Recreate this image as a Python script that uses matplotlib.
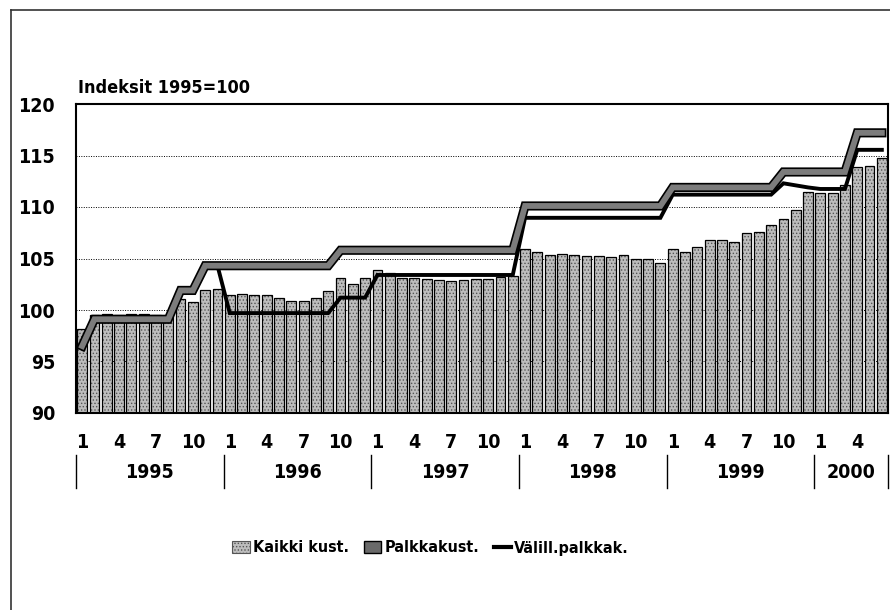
import numpy as np
import matplotlib.pyplot as plt
import matplotlib.patheffects as pe
from matplotlib.patches import Patch
from matplotlib.lines import Line2D
import matplotlib.transforms as mtransforms

plt.rcParams['font.family'] = ['DejaVu Sans']
plt.rcParams['font.stretch'] = 'condensed'
plt.rcParams['hatch.linewidth'] = 0.6

# data, monthly 1/1995 - 6/2000
years = ['1995', '1996', '1997', '1998', '1999', '2000']
months_per_year = [12, 12, 12, 12, 12, 6]

kaikki = [98.2, 99.5, 99.6, 99.5, 99.6, 99.6, 99.5, 99.4, 101.1, 100.8, 101.9, 102.0,
          101.5, 101.6, 101.5, 101.5, 101.2, 100.9, 100.9, 101.2, 101.8, 103.1, 102.5, 103.1,
          103.9, 103.6, 103.1, 103.1, 103.0, 102.9, 102.8, 102.9, 103.0, 103.0, 103.2, 103.3,
          105.9, 105.6, 105.3, 105.4, 105.3, 105.2, 105.2, 105.1, 105.3, 105.0, 105.0, 104.6,
          105.9, 105.6, 106.1, 106.8, 106.8, 106.6, 107.5, 107.6, 108.3, 108.8, 109.7, 111.5,
          111.4, 111.4, 112.1, 113.9, 114.0, 114.8]

palkka = [96.5, 99.1, 99.1, 99.1, 99.1, 99.1, 99.1, 99.1, 101.9, 101.9, 104.3, 104.3,
          104.3, 104.3, 104.3, 104.3, 104.3, 104.3, 104.3, 104.3, 104.3, 105.8, 105.8, 105.8,
          105.8, 105.8, 105.8, 105.8, 105.8, 105.8, 105.8, 105.8, 105.8, 105.8, 105.8, 105.8,
          110.1, 110.1, 110.1, 110.1, 110.1, 110.1, 110.1, 110.1, 110.1, 110.1, 110.1, 110.1,
          111.9, 111.9, 111.9, 111.9, 111.9, 111.9, 111.9, 111.9, 111.9, 113.4, 113.4, 113.4,
          113.4, 113.4, 113.4, 117.2, 117.2, 117.2]

valill = [96.3, 99.1, 99.1, 99.1, 99.1, 99.1, 99.1, 99.1, 101.8, 101.8, 104.3, 104.3,
          99.7, 99.7, 99.7, 99.7, 99.7, 99.7, 99.7, 99.7, 99.7, 101.2, 101.2, 101.2,
          103.4, 103.4, 103.4, 103.4, 103.4, 103.4, 103.4, 103.4, 103.4, 103.4, 103.4, 103.4,
          108.95, 108.95, 108.95, 108.95, 108.95, 108.95, 108.95, 108.95, 108.95, 108.95, 108.95, 108.95,
          111.2, 111.2, 111.2, 111.2, 111.2, 111.2, 111.2, 111.2, 111.2, 112.3, 112.1, 111.9,
          111.75, 111.75, 111.75, 115.55, 115.55, 115.55]

month_labels = [1, 4, 7, 10]

fs = 14
fig = plt.figure(figsize=(8.9, 6.1), dpi=100)
ax = fig.add_axes([76/890, 1-413/610, (888-76)/890, (413-104)/610])

x = np.arange(len(kaikki))
# stippled bars
ax.bar(x, kaikki, width=0.8, color='#bdbdbd', edgecolor='#555555', hatch='.....', linewidth=0, zorder=2)
ax.bar(x, kaikki, width=0.8, fill=False, edgecolor='black', linewidth=0.9, zorder=2.1)

ax.plot(x, valill, color='black', lw=2.8, zorder=3, solid_joinstyle='miter')
ax.plot(x, palkka, color='#7c7c7c', lw=4.2, zorder=4, solid_joinstyle='miter',
        path_effects=[pe.Stroke(linewidth=6.6, foreground='black'), pe.Normal()])

for v in [95, 100, 105, 110, 115]:
    ax.axhline(v, color='black', lw=0.7, ls=(0, (1, 1.5)), zorder=1)

ax.set_xlim(-0.5, len(kaikki) - 0.5)
ax.set_ylim(90, 120)
ax.set_yticks(range(90, 121, 5))
for s in ax.spines.values():
    s.set_linewidth(1.5)

# month ticks
ticks, labels = [], []
start = 0
for n in months_per_year:
    for m in month_labels:
        if m <= n:
            ticks.append(start + m - 1)
            labels.append(str(m))
    start += n
ax.set_xticks(ticks, labels)
ax.tick_params(axis='x', length=0, pad=14.5, labelsize=fs)
ax.tick_params(axis='y', length=0, pad=15, labelsize=fs)
for lab in ax.get_xticklabels() + ax.get_yticklabels():
    lab.set_fontweight('bold')

# year labels and separators
trans = mtransforms.blended_transform_factory(ax.transData, ax.transAxes)
start = 0
edges = [-0.5]
for yr, n in zip(years, months_per_year):
    ax.text(start + n / 2 - 0.5, -0.191, yr, transform=trans, ha='center', va='center',
            fontsize=fs, fontweight='bold')
    start += n
    edges.append(start - 0.5)
for b in edges:
    ax.plot([b, b], [-0.136, -0.243], transform=trans, clip_on=False, color='black', lw=1)

fig.text(78/890, 1-88/610, 'Indeksit 1995=100', fontsize=13, fontweight='bold', va='center')

handles = [Patch(facecolor='#bdbdbd', edgecolor='#555555', hatch='.....', lw=0.8),
           Patch(facecolor='#6a6a6a', edgecolor='black', lw=1),
           Line2D([], [], color='black', lw=3)]
fig.legend(handles, ['Kaikki kust.', 'Palkkakust.', 'Välill.palkkak.'], loc='center',
           bbox_to_anchor=(0.484, 1-548/610), ncol=3, frameon=False, handlelength=1.1,
           handletextpad=0.2, columnspacing=0.9, prop={'size': 11.5, 'weight': 'bold'})

# outer frame (top and left edges)
fig.add_artist(Line2D([11/890, 1], [1-10/610, 1-10/610], color='#333333', lw=1.2))
fig.add_artist(Line2D([11/890, 11/890], [0, 1-10/610], color='#333333', lw=1.2))

fig.savefig('out.png', dpi=100)
